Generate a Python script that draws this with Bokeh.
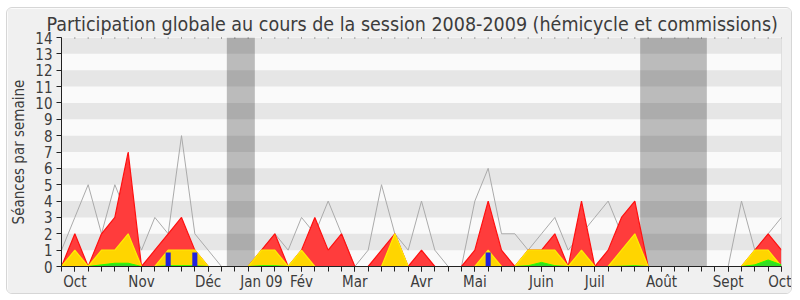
from bokeh.plotting import figure
from bokeh.models import FixedTicker, LinearAxis, Range1d, BoxAnnotation, Span
from bokeh.embed import file_html
from bokeh.resources import INLINE

# ---- data (one value per week, session 2008-2009) ----
semaines = list(range(55))
presence = [0, 2, 0, 2, 3, 7, 0, 1, 2, 3, 1, 0, 0, 0, 0, 1, 2, 0, 1, 3,
            1, 2, 0, 0, 1, 2, 0, 1, 0, 0, 0, 1, 4, 1, 0, 1, 1, 2, 0, 4,
            0, 1, 3, 4, 0, 0, 0, 0, 0, 0, 0, 0, 1, 2, 1]
participation = [0, 1, 0, 1, 1, 2, 0, 0, 1, 1, 1, 0, 0, 0, 0, 1, 1, 0, 1, 0,
                 0, 0, 0, 0, 0, 2, 0, 0, 0, 0, 0, 0, 1, 0, 0, 1, 1, 1, 0, 1,
                 0, 0, 1, 2, 0, 0, 0, 0, 0, 0, 0, 0, 1, 1, 0]
hemicycle = [0, 0, 0, 0.1, 0.2, 0.2, 0, 0, 0.05, 0.05, 0.05, 0, 0, 0, 0, 0.05, 0.05, 0, 0, 0,
             0, 0, 0, 0, 0, 0, 0, 0, 0, 0, 0, 0, 0, 0, 0, 0.05, 0.25, 0.05, 0, 0,
             0, 0, 0.02, 0.05, 0, 0, 0, 0, 0, 0, 0, 0, 0.1, 0.4, 0.1]
mediane = [1, 3, 5, 2, 5, 3, 1, 3, 2, 8, 2, 1, 0, 0, 0, 1, 2, 1, 3, 2,
           4, 2, 0, 1, 5, 2, 1, 4, 1, 0, 0, 4, 6, 2, 2, 1, 2, 3, 1, 2,
           3, 4, 2, 1, 0, 0, 0, 0, 0, 0, 0, 4, 1, 2, 3]
interventions = [0] * 55
for w in (8, 10, 32):
    interventions[w] = 0.85

mois_semaine = [1, 6, 11, 15, 18, 22, 27, 31, 36, 40, 45, 50, 54]
mois_noms = ["Oct", "Nov", "Déc", "Jan 09", "Fév", "Mar", "Avr", "Mai",
             "Juin", "Juil", "Août", "Sept", "Oct"]
vacances = [(12.4, 14.5), (43.4, 48.4)]
y_ticks = list(range(15))
Y_MAX = 14

FONT = "DejaVu Sans Condensed"
TXT = "#3c3c3c"

p = figure(width=786, height=287, output_backend="svg", toolbar_location=None,
           x_range=Range1d(0, 54), y_range=Range1d(0, Y_MAX),
           min_border_left=54, min_border_right=12, min_border_top=28,
           min_border_bottom=29, x_axis_type=None, y_axis_type=None)
p.styles = {"margin-left": "6px", "margin-top": "7px",
            "border": "1px solid #d6d6d6", "border-radius": "6px",
            "overflow": "hidden"}
p.title.text = "Participation globale au cours de la session 2008-2009 (hémicycle et commissions)"
p.title.text_font = FONT
p.title.text_font_size = "19.5px"
p.title.text_font_style = "normal"
p.title.text_color = TXT
p.title.align = "left"
p.title.offset = -15
p.title.standoff = 4
p.border_fill_color = "#f0f0f0"
p.background_fill_color = "#fafafa"
p.outline_line_color = None
p.xgrid.visible = False
p.ygrid.visible = False

# stripes
for k in range(1, 14, 2):
    p.add_layout(BoxAnnotation(bottom=k, top=k + 1, fill_color="#e6e6e6",
                               fill_alpha=1, line_color=None, level="underlay"))
for a, b in vacances:
    p.add_layout(BoxAnnotation(left=a, right=b, fill_color="#000000",
                               fill_alpha=0.25, line_color=None, level="underlay"))

# dotted week marks along the top edge
p.rect(x=semaines, y=Y_MAX, width=1, height=2, width_units="screen",
       height_units="screen", fill_color="#555555", line_color=None)

# median line
p.line(semaines, mediane, line_color="#aaaaaa", line_width=1)

# areas
p.varea(x=semaines, y1=0, y2=presence, fill_color="#ff3c3c")
p.line(semaines, presence, line_color="#ff1010", line_width=1.2)
p.varea(x=semaines, y1=0, y2=participation, fill_color="#ffd500")
p.line(semaines, participation, line_color="#ffee00", line_width=1.2)
p.varea(x=semaines, y1=0, y2=hemicycle, fill_color="#33dd22")
p.line(semaines, hemicycle, line_color="#22ff00", line_width=1)
p.vbar(x=semaines, top=interventions, width=0.38, fill_color="#2222dd", line_color=None)

p.add_layout(Span(location=54, dimension="height", line_color="#c8c8c8", line_width=1))

# axes
xax = LinearAxis(ticker=FixedTicker(ticks=mois_semaine, minor_ticks=semaines))
xax.major_label_overrides = {w: n for w, n in zip(mois_semaine, mois_noms)}
xax.major_label_text_font = FONT
xax.major_label_text_font_size = "15px"
xax.major_label_text_color = TXT
xax.major_tick_in = 0
xax.major_tick_out = 5
xax.minor_tick_in = 0
xax.minor_tick_out = 5
xax.major_label_standoff = 1
xax.axis_line_color = "#222222"
xax.major_tick_line_color = "#222222"
xax.minor_tick_line_color = "#222222"
p.add_layout(xax, "below")

yax = LinearAxis(ticker=FixedTicker(ticks=y_ticks))
yax.major_label_text_font = FONT
yax.major_label_text_font_size = "15px"
yax.major_label_text_color = TXT
yax.major_tick_in = 0
yax.major_tick_out = 5
yax.minor_tick_line_color = None
yax.major_label_standoff = 4
yax.axis_line_color = "#222222"
yax.major_tick_line_color = "#222222"
yax.axis_label = "Séances par semaine"
yax.axis_label_text_font = FONT
yax.axis_label_text_font_size = "15px"
yax.axis_label_text_font_style = "normal"
yax.axis_label_text_color = TXT
yax.axis_label_standoff = 4
p.add_layout(yax, "left")

open("out.html", "w").write(file_html(p, INLINE))
